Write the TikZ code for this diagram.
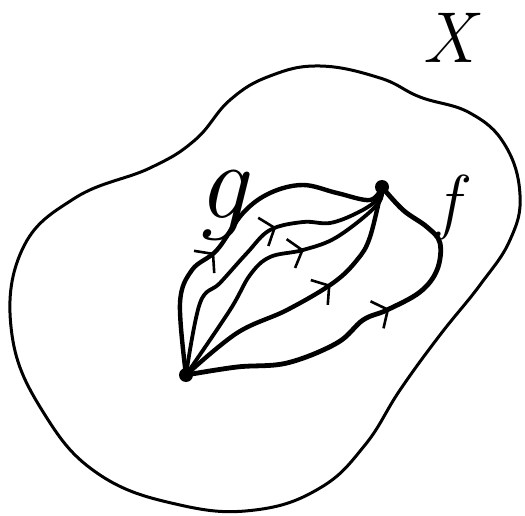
\documentclass[tikz,border=0pt]{standalone}
\usetikzlibrary{arrows.meta,decorations.markings}

\begin{document}
\begin{tikzpicture}[
    x=1pt, y=-1pt,
    line cap=round, line join=round,
    space/.style={line width=3pt},
    point/.style={circle, fill=black, inner sep=0pt, minimum size=14pt},
    strand/.style={line width=4.4pt, postaction={decorate},
        decoration={markings, mark=at position #1 with {\arrow[line width=2.6pt]{Straight Barb[length=12pt, width=30pt]}}}},
    label/.style={font=\fontsize{#1}{#1}\selectfont\itshape, inner sep=0pt}
]
    \useasboundingbox (0,0) rectangle (525,516);

    \draw[space] plot[smooth cycle, tension=0.7] coordinates {
        (150,168) (195,140) (230,100) (270,76) (320,66) (380,78) (420,97)
        (470,113) (505,145) (520,195) (510,240) (480,285) (440,335)
        (400,390) (365,445) (320,488) (255,510) (180,505) (100,475)
        (45,415) (12,335) (22,250) (75,198)};

    \node[point] (p) at (186,375) {};
    \node[point] (q) at (382,187) {};

    \draw[strand=0.40] plot[smooth, tension=0.6] coordinates {
        (p.center) (180,303) (192,270) (217,250) (243,213) (270,193)
        (303,185) (337,193) (370,200) (q.center)};
    \draw[strand=0.60, line width=3.8pt] plot[smooth, tension=0.6] coordinates {
        (p.center) (200,303) (220,283) (247,253) (270,230) (303,222)
        (330,223) (357,213) (377,200) (q.center)};
    \draw[strand=0.63, line width=3.8pt] plot[smooth, tension=0.6] coordinates {
        (p.center) (230,310) (250,275) (270,257) (303,250) (337,237)
        (377,205) (q.center)};
    \draw[strand=0.60] plot[smooth, tension=0.6] coordinates {
        (p.center) (237,333) (287,310) (333,283) (357,260) (370,237)
        (q.center)};
    \draw[strand=0.56, line width=4.8pt] plot[smooth, tension=0.6] coordinates {
        (p.center) (237,367) (287,363) (337,343) (363,320) (387,310)
        (420,292) (437,270) (440,243) (427,227) (403,210) (q.center)};

    \node[label=110] (g) at (222,205) {g};
    \node[label=72] (f) at (448,207) {f};
    \node[label=72] (X) at (449,38) {X};
\end{tikzpicture}
\end{document}
